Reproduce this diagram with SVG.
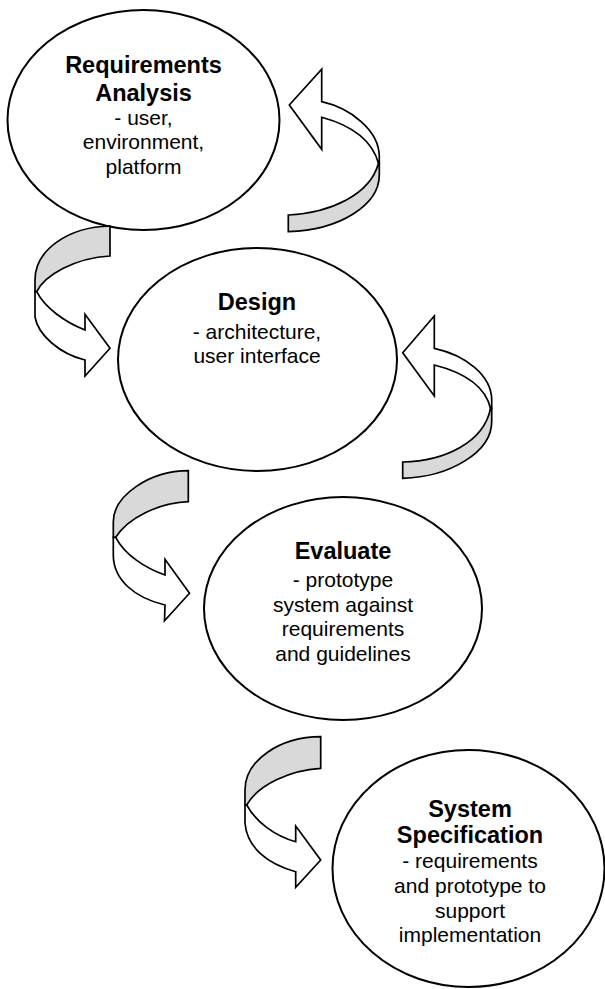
<svg xmlns="http://www.w3.org/2000/svg" width="605" height="989" viewBox="0 0 605 989">
<style>
.node ellipse{fill:#ffffff;stroke:#000000;stroke-width:2}
.t{font-family:"Liberation Sans",Arial,sans-serif;text-anchor:middle;fill:#000000}
.b{font-weight:bold;font-size:23.5px}
.r{font-size:21px}
.front{fill:#ffffff;stroke:#000000;stroke-width:1.7;stroke-linejoin:miter}
.back{fill:#d9d9d9;stroke:#000000;stroke-width:1.7;stroke-linejoin:miter}
</style>
<rect width="605" height="989" fill="#ffffff"/>

<g id="node-requirements" class="node">
<ellipse cx="143.5" cy="120" rx="136" ry="110"/>
<text class="t b" x="143.5" y="73.3">Requirements</text>
<text class="t b" x="143.5" y="100.7">Analysis</text>
<text class="t r" x="143.5" y="125">- user,</text>
<text class="t r" x="143.5" y="149.3">environment,</text>
<text class="t r" x="143.5" y="174.3">platform</text>
</g>

<g id="node-design" class="node">
<ellipse cx="257.5" cy="359.5" rx="139.5" ry="111.5"/>
<text class="t b" x="257" y="310">Design</text>
<text class="t r" x="257" y="339">- architecture,</text>
<text class="t r" x="257" y="362.7">user interface</text>
</g>

<g id="node-evaluate" class="node">
<ellipse cx="343" cy="608.5" rx="139" ry="111.5"/>
<text class="t b" x="343" y="559.3">Evaluate</text>
<text class="t r" x="343" y="587">- prototype</text>
<text class="t r" x="343" y="611.7">system against</text>
<text class="t r" x="343" y="636">requirements</text>
<text class="t r" x="343" y="660.7">and guidelines</text>
</g>

<g id="node-specification" class="node">
<ellipse cx="468.5" cy="868.5" rx="136" ry="118.5"/>
<text class="t b" x="470" y="816.7">System</text>
<text class="t b" x="470" y="843.3">Specification</text>
<text class="t r" x="470" y="868.3">- requirements</text>
<text class="t r" x="470" y="893">and prototype to</text>
<text class="t r" x="470" y="917.7">support</text>
<text class="t r" x="470" y="942">implementation</text>
</g>

<g id="connectors">
<!-- arrow 1: design back to requirements -->
<g id="arrow-1">
<path class="back" d="M378.5,163.3 L379.3,163.3 L379.3,175 C379.3,205 340,230 288.3,231.7 L288.3,215 C330,213 370,195 378.5,163.3 Z"/>
<path class="front" d="M321.7,101.7 C350,108 379.3,130 379.3,156.7 L379.3,163.3 L378.5,163.3 C372,140 350,125 321.7,117.3 L321.7,149.3 L289.3,105 L321.7,69.3 Z"/>
</g>
<!-- arrow 2: requirements to design -->
<g id="arrow-2">
<path class="back" d="M110,226 L110,256 C75,258 45,275 36.7,291.7 L35,291.7 L35,280 C35,250 68,227 110,226 Z"/>
<path class="front" d="M35,291.7 L36.7,291.7 C45,308 65,322 85,330 L85,314.3 L110,348.3 L85,376 L85,360 C60,354 38,335 35,317 Z"/>
</g>
<!-- arrow 3: evaluate back to design -->
<g id="arrow-3">
<path class="back" d="M490.5,408.3 L491.7,408.3 L491.7,421.7 C491.7,452 450,477 402.7,478.3 L402.7,462 C445,461 484,442 490.5,408.3 Z"/>
<path class="front" d="M434.3,348.3 C465,355 491.7,375 491.7,400 L491.7,408.3 L490.5,408.3 C485,385 462,372 434.3,365 L434.3,396 L402.7,352.7 L434.3,316 Z"/>
</g>
<!-- arrow 4: design to evaluate -->
<g id="arrow-4">
<path class="back" d="M188.3,470.7 L188.3,501.7 C158,503 128,518 115.7,537.3 L113.3,537.3 L113.3,522 C113.3,495 150,471 188.3,470.7 Z"/>
<path class="front" d="M113.3,537.3 L115.7,537.3 C125,555 145,568 165,575 L165,559.3 L189.5,593.3 L164.5,620.7 L165,605 C135,598 113.3,580 113.3,555 Z"/>
</g>
<!-- arrow 5: evaluate to specification -->
<g id="arrow-5">
<path class="back" d="M320.7,736.7 L320.7,768.3 C290,770 258,785 246.7,805 L245,805 L245,790 C245,760 280,737 320.7,736.7 Z"/>
<path class="front" d="M245,805 L246.7,805 C256,822 275,836 295.7,841.7 L295.7,826 L320.7,860 L295.7,887.3 L295.7,871.7 C268,864 247,848 245,823 Z"/>
</g>
</g>
</svg>
